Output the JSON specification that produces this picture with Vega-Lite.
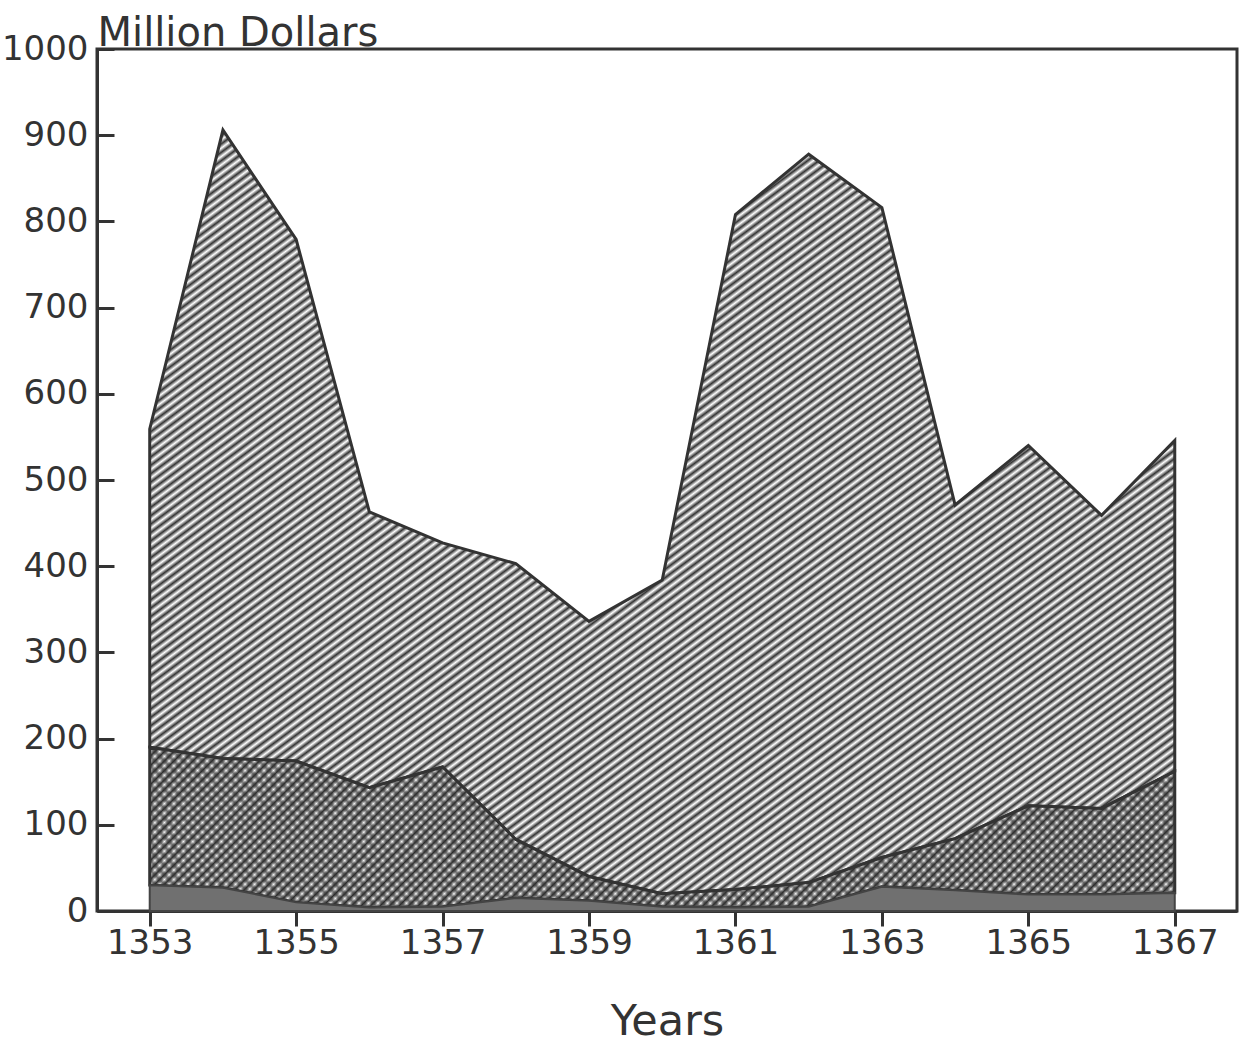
{
  "$schema": "https://vega.github.io/schema/vega-lite/v6.json",
  "autosize": {"type": "none"},
  "padding": {"left": 97, "top": 49, "right": 16, "bottom": 133},
  "width": 1140,
  "height": 862,
  "background": "#ffffff",
  "config": {
    "view": {"stroke": "#333333", "strokeWidth": 3},
    "font": "DejaVu Sans"
  },
  "data": {
    "values": [
      {"year": 1353, "series": "bottom", "value": 30}, {"year": 1353, "series": "middle", "value": 160}, {"year": 1353, "series": "top", "value": 369},
      {"year": 1354, "series": "bottom", "value": 27}, {"year": 1354, "series": "middle", "value": 150}, {"year": 1354, "series": "top", "value": 729},
      {"year": 1355, "series": "bottom", "value": 10}, {"year": 1355, "series": "middle", "value": 164}, {"year": 1355, "series": "top", "value": 605},
      {"year": 1356, "series": "bottom", "value": 4}, {"year": 1356, "series": "middle", "value": 139}, {"year": 1356, "series": "top", "value": 320},
      {"year": 1357, "series": "bottom", "value": 5}, {"year": 1357, "series": "middle", "value": 162}, {"year": 1357, "series": "top", "value": 260},
      {"year": 1358, "series": "bottom", "value": 15}, {"year": 1358, "series": "middle", "value": 68}, {"year": 1358, "series": "top", "value": 320},
      {"year": 1359, "series": "bottom", "value": 12}, {"year": 1359, "series": "middle", "value": 28}, {"year": 1359, "series": "top", "value": 296},
      {"year": 1360, "series": "bottom", "value": 5}, {"year": 1360, "series": "middle", "value": 15}, {"year": 1360, "series": "top", "value": 364},
      {"year": 1361, "series": "bottom", "value": 4}, {"year": 1361, "series": "middle", "value": 21}, {"year": 1361, "series": "top", "value": 783},
      {"year": 1362, "series": "bottom", "value": 5}, {"year": 1362, "series": "middle", "value": 28}, {"year": 1362, "series": "top", "value": 845},
      {"year": 1363, "series": "bottom", "value": 28}, {"year": 1363, "series": "middle", "value": 34}, {"year": 1363, "series": "top", "value": 754},
      {"year": 1364, "series": "bottom", "value": 24}, {"year": 1364, "series": "middle", "value": 60}, {"year": 1364, "series": "top", "value": 387},
      {"year": 1365, "series": "bottom", "value": 19}, {"year": 1365, "series": "middle", "value": 103}, {"year": 1365, "series": "top", "value": 418},
      {"year": 1366, "series": "bottom", "value": 19}, {"year": 1366, "series": "middle", "value": 100}, {"year": 1366, "series": "top", "value": 340},
      {"year": 1367, "series": "bottom", "value": 21}, {"year": 1367, "series": "middle", "value": 141}, {"year": 1367, "series": "top", "value": 384}
    ]
  },
  "transform": [
    {"stack": "value", "groupby": ["year"], "sort": [{"field": "series", "order": "ascending"}], "as": ["y0", "y1"]}
  ],
  "encoding": {
    "x": {
      "field": "year", "type": "quantitative",
      "scale": {"domain": [1352.28, 1367.85], "nice": false, "zero": false},
      "axis": {
        "values": [1353, 1355, 1357, 1359, 1361, 1363, 1365, 1367],
        "format": "d", "grid": false,
        "domainColor": "#333333", "domainWidth": 3,
        "tickColor": "#333333", "tickWidth": 3, "tickSize": 15,
        "labelFontSize": 34, "labelColor": "#333333", "labelPadding": 0,
        "title": "Years", "titleFontSize": 43, "titleFontWeight": "normal", "titleColor": "#333333", "titlePadding": 40
      }
    },
    "y": {
      "field": "y1", "type": "quantitative",
      "scale": {"domain": [0, 1000], "nice": false},
      "axis": {
        "values": [0, 100, 200, 300, 400, 500, 600, 700, 800, 900, 1000],
        "format": "d", "grid": false,
        "domainColor": "#333333", "domainWidth": 3,
        "tickColor": "#333333", "tickWidth": 3, "tickSize": -17,
        "labelFontSize": 34, "labelColor": "#333333", "labelPadding": 26,
        "title": "Million Dollars", "titleAngle": 0, "titleAlign": "left", "titleBaseline": "alphabetic",
        "titleX": 0, "titleY": -4, "titleFontSize": 40, "titleFontWeight": "normal", "titleColor": "#333333"
      }
    },
    "y2": {"field": "y0"}
  },
  "layer": [
    {
      "transform": [{"filter": "datum.series === 'top'"}],
      "mark": {"type": "area", "fillOpacity": 1, "stroke": "#333333", "strokeWidth": 3, "strokeJoin": "miter",
        "fill": {"gradient": "linear", "x1": 0, "y1": 0, "x2": 1.1, "y2": 1.1, "stops": [
{"offset":0,"color":"#333"},{"offset":0.0025,"color":"#fff"},{"offset":0.005,"color":"#333"},{"offset":0.0075,"color":"#fff"},
{"offset":0.01,"color":"#333"},{"offset":0.0125,"color":"#fff"},{"offset":0.015,"color":"#333"},{"offset":0.0175,"color":"#fff"},
{"offset":0.02,"color":"#333"},{"offset":0.0225,"color":"#fff"},{"offset":0.025,"color":"#333"},{"offset":0.0275,"color":"#fff"},
{"offset":0.03,"color":"#333"},{"offset":0.0325,"color":"#fff"},{"offset":0.035,"color":"#333"},{"offset":0.0375,"color":"#fff"},
{"offset":0.04,"color":"#333"},{"offset":0.0425,"color":"#fff"},{"offset":0.045,"color":"#333"},{"offset":0.0475,"color":"#fff"},
{"offset":0.05,"color":"#333"},{"offset":0.0525,"color":"#fff"},{"offset":0.055,"color":"#333"},{"offset":0.0575,"color":"#fff"},
{"offset":0.06,"color":"#333"},{"offset":0.0625,"color":"#fff"},{"offset":0.065,"color":"#333"},{"offset":0.0675,"color":"#fff"},
{"offset":0.07,"color":"#333"},{"offset":0.0725,"color":"#fff"},{"offset":0.075,"color":"#333"},{"offset":0.0775,"color":"#fff"},
{"offset":0.08,"color":"#333"},{"offset":0.0825,"color":"#fff"},{"offset":0.085,"color":"#333"},{"offset":0.0875,"color":"#fff"},
{"offset":0.09,"color":"#333"},{"offset":0.0925,"color":"#fff"},{"offset":0.095,"color":"#333"},{"offset":0.0975,"color":"#fff"},
{"offset":0.1,"color":"#333"},{"offset":0.1025,"color":"#fff"},{"offset":0.105,"color":"#333"},{"offset":0.1075,"color":"#fff"},
{"offset":0.11,"color":"#333"},{"offset":0.1125,"color":"#fff"},{"offset":0.115,"color":"#333"},{"offset":0.1175,"color":"#fff"},
{"offset":0.12,"color":"#333"},{"offset":0.1225,"color":"#fff"},{"offset":0.125,"color":"#333"},{"offset":0.1275,"color":"#fff"},
{"offset":0.13,"color":"#333"},{"offset":0.1325,"color":"#fff"},{"offset":0.135,"color":"#333"},{"offset":0.1375,"color":"#fff"},
{"offset":0.14,"color":"#333"},{"offset":0.1425,"color":"#fff"},{"offset":0.145,"color":"#333"},{"offset":0.1475,"color":"#fff"},
{"offset":0.15,"color":"#333"},{"offset":0.1525,"color":"#fff"},{"offset":0.155,"color":"#333"},{"offset":0.1575,"color":"#fff"},
{"offset":0.16,"color":"#333"},{"offset":0.1625,"color":"#fff"},{"offset":0.165,"color":"#333"},{"offset":0.1675,"color":"#fff"},
{"offset":0.17,"color":"#333"},{"offset":0.1725,"color":"#fff"},{"offset":0.175,"color":"#333"},{"offset":0.1775,"color":"#fff"},
{"offset":0.18,"color":"#333"},{"offset":0.1825,"color":"#fff"},{"offset":0.185,"color":"#333"},{"offset":0.1875,"color":"#fff"},
{"offset":0.19,"color":"#333"},{"offset":0.1925,"color":"#fff"},{"offset":0.195,"color":"#333"},{"offset":0.1975,"color":"#fff"},
{"offset":0.2,"color":"#333"},{"offset":0.2025,"color":"#fff"},{"offset":0.205,"color":"#333"},{"offset":0.2075,"color":"#fff"},
{"offset":0.21,"color":"#333"},{"offset":0.2125,"color":"#fff"},{"offset":0.215,"color":"#333"},{"offset":0.2175,"color":"#fff"},
{"offset":0.22,"color":"#333"},{"offset":0.2225,"color":"#fff"},{"offset":0.225,"color":"#333"},{"offset":0.2275,"color":"#fff"},
{"offset":0.23,"color":"#333"},{"offset":0.2325,"color":"#fff"},{"offset":0.235,"color":"#333"},{"offset":0.2375,"color":"#fff"},
{"offset":0.24,"color":"#333"},{"offset":0.2425,"color":"#fff"},{"offset":0.245,"color":"#333"},{"offset":0.2475,"color":"#fff"},
{"offset":0.25,"color":"#333"},{"offset":0.2525,"color":"#fff"},{"offset":0.255,"color":"#333"},{"offset":0.2575,"color":"#fff"},
{"offset":0.26,"color":"#333"},{"offset":0.2625,"color":"#fff"},{"offset":0.265,"color":"#333"},{"offset":0.2675,"color":"#fff"},
{"offset":0.27,"color":"#333"},{"offset":0.2725,"color":"#fff"},{"offset":0.275,"color":"#333"},{"offset":0.2775,"color":"#fff"},
{"offset":0.28,"color":"#333"},{"offset":0.2825,"color":"#fff"},{"offset":0.285,"color":"#333"},{"offset":0.2875,"color":"#fff"},
{"offset":0.29,"color":"#333"},{"offset":0.2925,"color":"#fff"},{"offset":0.295,"color":"#333"},{"offset":0.2975,"color":"#fff"},
{"offset":0.3,"color":"#333"},{"offset":0.3025,"color":"#fff"},{"offset":0.305,"color":"#333"},{"offset":0.3075,"color":"#fff"},
{"offset":0.31,"color":"#333"},{"offset":0.3125,"color":"#fff"},{"offset":0.315,"color":"#333"},{"offset":0.3175,"color":"#fff"},
{"offset":0.32,"color":"#333"},{"offset":0.3225,"color":"#fff"},{"offset":0.325,"color":"#333"},{"offset":0.3275,"color":"#fff"},
{"offset":0.33,"color":"#333"},{"offset":0.3325,"color":"#fff"},{"offset":0.335,"color":"#333"},{"offset":0.3375,"color":"#fff"},
{"offset":0.34,"color":"#333"},{"offset":0.3425,"color":"#fff"},{"offset":0.345,"color":"#333"},{"offset":0.3475,"color":"#fff"},
{"offset":0.35,"color":"#333"},{"offset":0.3525,"color":"#fff"},{"offset":0.355,"color":"#333"},{"offset":0.3575,"color":"#fff"},
{"offset":0.36,"color":"#333"},{"offset":0.3625,"color":"#fff"},{"offset":0.365,"color":"#333"},{"offset":0.3675,"color":"#fff"},
{"offset":0.37,"color":"#333"},{"offset":0.3725,"color":"#fff"},{"offset":0.375,"color":"#333"},{"offset":0.3775,"color":"#fff"},
{"offset":0.38,"color":"#333"},{"offset":0.3825,"color":"#fff"},{"offset":0.385,"color":"#333"},{"offset":0.3875,"color":"#fff"},
{"offset":0.39,"color":"#333"},{"offset":0.3925,"color":"#fff"},{"offset":0.395,"color":"#333"},{"offset":0.3975,"color":"#fff"},
{"offset":0.4,"color":"#333"},{"offset":0.4025,"color":"#fff"},{"offset":0.405,"color":"#333"},{"offset":0.4075,"color":"#fff"},
{"offset":0.41,"color":"#333"},{"offset":0.4125,"color":"#fff"},{"offset":0.415,"color":"#333"},{"offset":0.4175,"color":"#fff"},
{"offset":0.42,"color":"#333"},{"offset":0.4225,"color":"#fff"},{"offset":0.425,"color":"#333"},{"offset":0.4275,"color":"#fff"},
{"offset":0.43,"color":"#333"},{"offset":0.4325,"color":"#fff"},{"offset":0.435,"color":"#333"},{"offset":0.4375,"color":"#fff"},
{"offset":0.44,"color":"#333"},{"offset":0.4425,"color":"#fff"},{"offset":0.445,"color":"#333"},{"offset":0.4475,"color":"#fff"},
{"offset":0.45,"color":"#333"},{"offset":0.4525,"color":"#fff"},{"offset":0.455,"color":"#333"},{"offset":0.4575,"color":"#fff"},
{"offset":0.46,"color":"#333"},{"offset":0.4625,"color":"#fff"},{"offset":0.465,"color":"#333"},{"offset":0.4675,"color":"#fff"},
{"offset":0.47,"color":"#333"},{"offset":0.4725,"color":"#fff"},{"offset":0.475,"color":"#333"},{"offset":0.4775,"color":"#fff"},
{"offset":0.48,"color":"#333"},{"offset":0.4825,"color":"#fff"},{"offset":0.485,"color":"#333"},{"offset":0.4875,"color":"#fff"},
{"offset":0.49,"color":"#333"},{"offset":0.4925,"color":"#fff"},{"offset":0.495,"color":"#333"},{"offset":0.4975,"color":"#fff"},
{"offset":0.5,"color":"#333"},{"offset":0.5025,"color":"#fff"},{"offset":0.505,"color":"#333"},{"offset":0.5075,"color":"#fff"},
{"offset":0.51,"color":"#333"},{"offset":0.5125,"color":"#fff"},{"offset":0.515,"color":"#333"},{"offset":0.5175,"color":"#fff"},
{"offset":0.52,"color":"#333"},{"offset":0.5225,"color":"#fff"},{"offset":0.525,"color":"#333"},{"offset":0.5275,"color":"#fff"},
{"offset":0.53,"color":"#333"},{"offset":0.5325,"color":"#fff"},{"offset":0.535,"color":"#333"},{"offset":0.5375,"color":"#fff"},
{"offset":0.54,"color":"#333"},{"offset":0.5425,"color":"#fff"},{"offset":0.545,"color":"#333"},{"offset":0.5475,"color":"#fff"},
{"offset":0.55,"color":"#333"},{"offset":0.5525,"color":"#fff"},{"offset":0.555,"color":"#333"},{"offset":0.5575,"color":"#fff"},
{"offset":0.56,"color":"#333"},{"offset":0.5625,"color":"#fff"},{"offset":0.565,"color":"#333"},{"offset":0.5675,"color":"#fff"},
{"offset":0.57,"color":"#333"},{"offset":0.5725,"color":"#fff"},{"offset":0.575,"color":"#333"},{"offset":0.5775,"color":"#fff"},
{"offset":0.58,"color":"#333"},{"offset":0.5825,"color":"#fff"},{"offset":0.585,"color":"#333"},{"offset":0.5875,"color":"#fff"},
{"offset":0.59,"color":"#333"},{"offset":0.5925,"color":"#fff"},{"offset":0.595,"color":"#333"},{"offset":0.5975,"color":"#fff"},
{"offset":0.6,"color":"#333"},{"offset":0.6025,"color":"#fff"},{"offset":0.605,"color":"#333"},{"offset":0.6075,"color":"#fff"},
{"offset":0.61,"color":"#333"},{"offset":0.6125,"color":"#fff"},{"offset":0.615,"color":"#333"},{"offset":0.6175,"color":"#fff"},
{"offset":0.62,"color":"#333"},{"offset":0.6225,"color":"#fff"},{"offset":0.625,"color":"#333"},{"offset":0.6275,"color":"#fff"},
{"offset":0.63,"color":"#333"},{"offset":0.6325,"color":"#fff"},{"offset":0.635,"color":"#333"},{"offset":0.6375,"color":"#fff"},
{"offset":0.64,"color":"#333"},{"offset":0.6425,"color":"#fff"},{"offset":0.645,"color":"#333"},{"offset":0.6475,"color":"#fff"},
{"offset":0.65,"color":"#333"},{"offset":0.6525,"color":"#fff"},{"offset":0.655,"color":"#333"},{"offset":0.6575,"color":"#fff"},
{"offset":0.66,"color":"#333"},{"offset":0.6625,"color":"#fff"},{"offset":0.665,"color":"#333"},{"offset":0.6675,"color":"#fff"},
{"offset":0.67,"color":"#333"},{"offset":0.6725,"color":"#fff"},{"offset":0.675,"color":"#333"},{"offset":0.6775,"color":"#fff"},
{"offset":0.68,"color":"#333"},{"offset":0.6825,"color":"#fff"},{"offset":0.685,"color":"#333"},{"offset":0.6875,"color":"#fff"},
{"offset":0.69,"color":"#333"},{"offset":0.6925,"color":"#fff"},{"offset":0.695,"color":"#333"},{"offset":0.6975,"color":"#fff"},
{"offset":0.7,"color":"#333"},{"offset":0.7025,"color":"#fff"},{"offset":0.705,"color":"#333"},{"offset":0.7075,"color":"#fff"},
{"offset":0.71,"color":"#333"},{"offset":0.7125,"color":"#fff"},{"offset":0.715,"color":"#333"},{"offset":0.7175,"color":"#fff"},
{"offset":0.72,"color":"#333"},{"offset":0.7225,"color":"#fff"},{"offset":0.725,"color":"#333"},{"offset":0.7275,"color":"#fff"},
{"offset":0.73,"color":"#333"},{"offset":0.7325,"color":"#fff"},{"offset":0.735,"color":"#333"},{"offset":0.7375,"color":"#fff"},
{"offset":0.74,"color":"#333"},{"offset":0.7425,"color":"#fff"},{"offset":0.745,"color":"#333"},{"offset":0.7475,"color":"#fff"},
{"offset":0.75,"color":"#333"},{"offset":0.7525,"color":"#fff"},{"offset":0.755,"color":"#333"},{"offset":0.7575,"color":"#fff"},
{"offset":0.76,"color":"#333"},{"offset":0.7625,"color":"#fff"},{"offset":0.765,"color":"#333"},{"offset":0.7675,"color":"#fff"},
{"offset":0.77,"color":"#333"},{"offset":0.7725,"color":"#fff"},{"offset":0.775,"color":"#333"},{"offset":0.7775,"color":"#fff"},
{"offset":0.78,"color":"#333"},{"offset":0.7825,"color":"#fff"},{"offset":0.785,"color":"#333"},{"offset":0.7875,"color":"#fff"},
{"offset":0.79,"color":"#333"},{"offset":0.7925,"color":"#fff"},{"offset":0.795,"color":"#333"},{"offset":0.7975,"color":"#fff"},
{"offset":0.8,"color":"#333"},{"offset":0.8025,"color":"#fff"},{"offset":0.805,"color":"#333"},{"offset":0.8075,"color":"#fff"},
{"offset":0.81,"color":"#333"},{"offset":0.8125,"color":"#fff"},{"offset":0.815,"color":"#333"},{"offset":0.8175,"color":"#fff"},
{"offset":0.82,"color":"#333"},{"offset":0.8225,"color":"#fff"},{"offset":0.825,"color":"#333"},{"offset":0.8275,"color":"#fff"},
{"offset":0.83,"color":"#333"},{"offset":0.8325,"color":"#fff"},{"offset":0.835,"color":"#333"},{"offset":0.8375,"color":"#fff"},
{"offset":0.84,"color":"#333"},{"offset":0.8425,"color":"#fff"},{"offset":0.845,"color":"#333"},{"offset":0.8475,"color":"#fff"},
{"offset":0.85,"color":"#333"},{"offset":0.8525,"color":"#fff"},{"offset":0.855,"color":"#333"},{"offset":0.8575,"color":"#fff"},
{"offset":0.86,"color":"#333"},{"offset":0.8625,"color":"#fff"},{"offset":0.865,"color":"#333"},{"offset":0.8675,"color":"#fff"},
{"offset":0.87,"color":"#333"},{"offset":0.8725,"color":"#fff"},{"offset":0.875,"color":"#333"},{"offset":0.8775,"color":"#fff"},
{"offset":0.88,"color":"#333"},{"offset":0.8825,"color":"#fff"},{"offset":0.885,"color":"#333"},{"offset":0.8875,"color":"#fff"},
{"offset":0.89,"color":"#333"},{"offset":0.8925,"color":"#fff"},{"offset":0.895,"color":"#333"},{"offset":0.8975,"color":"#fff"},
{"offset":0.9,"color":"#333"},{"offset":0.9025,"color":"#fff"},{"offset":0.905,"color":"#333"},{"offset":0.9075,"color":"#fff"},
{"offset":0.91,"color":"#333"},{"offset":0.9125,"color":"#fff"},{"offset":0.915,"color":"#333"},{"offset":0.9175,"color":"#fff"},
{"offset":0.92,"color":"#333"}
        ]}
      }
    },
    {
      "transform": [{"filter": "datum.series === 'middle'"}],
      "mark": {"type": "area", "fillOpacity": 1, "strokeWidth": 0,
        "fill": {"gradient": "linear", "x1": 0, "y1": 0, "x2": 1.13, "y2": 0.177, "stops": [
{"offset":0,"color":"#333"},{"offset":0.004,"color":"#fff"},{"offset":0.008,"color":"#333"},{"offset":0.012,"color":"#fff"},{"offset":0.016,"color":"#333"},{"offset":0.02,"color":"#fff"},{"offset":0.024,"color":"#333"},{"offset":0.028,"color":"#fff"},{"offset":0.032,"color":"#333"},{"offset":0.036,"color":"#fff"},
{"offset":0.04,"color":"#333"},{"offset":0.044,"color":"#fff"},{"offset":0.048,"color":"#333"},{"offset":0.052,"color":"#fff"},{"offset":0.056,"color":"#333"},{"offset":0.06,"color":"#fff"},{"offset":0.064,"color":"#333"},{"offset":0.068,"color":"#fff"},{"offset":0.072,"color":"#333"},{"offset":0.076,"color":"#fff"},
{"offset":0.08,"color":"#333"},{"offset":0.084,"color":"#fff"},{"offset":0.088,"color":"#333"},{"offset":0.092,"color":"#fff"},{"offset":0.096,"color":"#333"},{"offset":0.1,"color":"#fff"},{"offset":0.104,"color":"#333"},{"offset":0.108,"color":"#fff"},{"offset":0.112,"color":"#333"},{"offset":0.116,"color":"#fff"},
{"offset":0.12,"color":"#333"},{"offset":0.124,"color":"#fff"},{"offset":0.128,"color":"#333"},{"offset":0.132,"color":"#fff"},{"offset":0.136,"color":"#333"},{"offset":0.14,"color":"#fff"},{"offset":0.144,"color":"#333"},{"offset":0.148,"color":"#fff"},{"offset":0.152,"color":"#333"},{"offset":0.156,"color":"#fff"},
{"offset":0.16,"color":"#333"},{"offset":0.164,"color":"#fff"},{"offset":0.168,"color":"#333"},{"offset":0.172,"color":"#fff"},{"offset":0.176,"color":"#333"},{"offset":0.18,"color":"#fff"},{"offset":0.184,"color":"#333"},{"offset":0.188,"color":"#fff"},{"offset":0.192,"color":"#333"},{"offset":0.196,"color":"#fff"},
{"offset":0.2,"color":"#333"},{"offset":0.204,"color":"#fff"},{"offset":0.208,"color":"#333"},{"offset":0.212,"color":"#fff"},{"offset":0.216,"color":"#333"},{"offset":0.22,"color":"#fff"},{"offset":0.224,"color":"#333"},{"offset":0.228,"color":"#fff"},{"offset":0.232,"color":"#333"},{"offset":0.236,"color":"#fff"},
{"offset":0.24,"color":"#333"},{"offset":0.244,"color":"#fff"},{"offset":0.248,"color":"#333"},{"offset":0.252,"color":"#fff"},{"offset":0.256,"color":"#333"},{"offset":0.26,"color":"#fff"},{"offset":0.264,"color":"#333"},{"offset":0.268,"color":"#fff"},{"offset":0.272,"color":"#333"},{"offset":0.276,"color":"#fff"},
{"offset":0.28,"color":"#333"},{"offset":0.284,"color":"#fff"},{"offset":0.288,"color":"#333"},{"offset":0.292,"color":"#fff"},{"offset":0.296,"color":"#333"},{"offset":0.3,"color":"#fff"},{"offset":0.304,"color":"#333"},{"offset":0.308,"color":"#fff"},{"offset":0.312,"color":"#333"},{"offset":0.316,"color":"#fff"},
{"offset":0.32,"color":"#333"},{"offset":0.324,"color":"#fff"},{"offset":0.328,"color":"#333"},{"offset":0.332,"color":"#fff"},{"offset":0.336,"color":"#333"},{"offset":0.34,"color":"#fff"},{"offset":0.344,"color":"#333"},{"offset":0.348,"color":"#fff"},{"offset":0.352,"color":"#333"},{"offset":0.356,"color":"#fff"},
{"offset":0.36,"color":"#333"},{"offset":0.364,"color":"#fff"},{"offset":0.368,"color":"#333"},{"offset":0.372,"color":"#fff"},{"offset":0.376,"color":"#333"},{"offset":0.38,"color":"#fff"},{"offset":0.384,"color":"#333"},{"offset":0.388,"color":"#fff"},{"offset":0.392,"color":"#333"},{"offset":0.396,"color":"#fff"},
{"offset":0.4,"color":"#333"},{"offset":0.404,"color":"#fff"},{"offset":0.408,"color":"#333"},{"offset":0.412,"color":"#fff"},{"offset":0.416,"color":"#333"},{"offset":0.42,"color":"#fff"},{"offset":0.424,"color":"#333"},{"offset":0.428,"color":"#fff"},{"offset":0.432,"color":"#333"},{"offset":0.436,"color":"#fff"},
{"offset":0.44,"color":"#333"},{"offset":0.444,"color":"#fff"},{"offset":0.448,"color":"#333"},{"offset":0.452,"color":"#fff"},{"offset":0.456,"color":"#333"},{"offset":0.46,"color":"#fff"},{"offset":0.464,"color":"#333"},{"offset":0.468,"color":"#fff"},{"offset":0.472,"color":"#333"},{"offset":0.476,"color":"#fff"},
{"offset":0.48,"color":"#333"},{"offset":0.484,"color":"#fff"},{"offset":0.488,"color":"#333"},{"offset":0.492,"color":"#fff"},{"offset":0.496,"color":"#333"},{"offset":0.5,"color":"#fff"},{"offset":0.504,"color":"#333"},{"offset":0.508,"color":"#fff"},{"offset":0.512,"color":"#333"},{"offset":0.516,"color":"#fff"},
{"offset":0.52,"color":"#333"},{"offset":0.524,"color":"#fff"},{"offset":0.528,"color":"#333"},{"offset":0.532,"color":"#fff"},{"offset":0.536,"color":"#333"},{"offset":0.54,"color":"#fff"},{"offset":0.544,"color":"#333"},{"offset":0.548,"color":"#fff"},{"offset":0.552,"color":"#333"},{"offset":0.556,"color":"#fff"},
{"offset":0.56,"color":"#333"},{"offset":0.564,"color":"#fff"},{"offset":0.568,"color":"#333"},{"offset":0.572,"color":"#fff"},{"offset":0.576,"color":"#333"},{"offset":0.58,"color":"#fff"},{"offset":0.584,"color":"#333"},{"offset":0.588,"color":"#fff"},{"offset":0.592,"color":"#333"},{"offset":0.596,"color":"#fff"},
{"offset":0.6,"color":"#333"},{"offset":0.604,"color":"#fff"},{"offset":0.608,"color":"#333"},{"offset":0.612,"color":"#fff"},{"offset":0.616,"color":"#333"},{"offset":0.62,"color":"#fff"},{"offset":0.624,"color":"#333"},{"offset":0.628,"color":"#fff"},{"offset":0.632,"color":"#333"},{"offset":0.636,"color":"#fff"},
{"offset":0.64,"color":"#333"},{"offset":0.644,"color":"#fff"},{"offset":0.648,"color":"#333"},{"offset":0.652,"color":"#fff"},{"offset":0.656,"color":"#333"},{"offset":0.66,"color":"#fff"},{"offset":0.664,"color":"#333"},{"offset":0.668,"color":"#fff"},{"offset":0.672,"color":"#333"},{"offset":0.676,"color":"#fff"},
{"offset":0.68,"color":"#333"},{"offset":0.684,"color":"#fff"},{"offset":0.688,"color":"#333"},{"offset":0.692,"color":"#fff"},{"offset":0.696,"color":"#333"},{"offset":0.7,"color":"#fff"},{"offset":0.704,"color":"#333"},{"offset":0.708,"color":"#fff"},{"offset":0.712,"color":"#333"},{"offset":0.716,"color":"#fff"},
{"offset":0.72,"color":"#333"},{"offset":0.724,"color":"#fff"},{"offset":0.728,"color":"#333"},{"offset":0.732,"color":"#fff"},{"offset":0.736,"color":"#333"},{"offset":0.74,"color":"#fff"},{"offset":0.744,"color":"#333"},{"offset":0.748,"color":"#fff"},{"offset":0.752,"color":"#333"},{"offset":0.756,"color":"#fff"},
{"offset":0.76,"color":"#333"},{"offset":0.764,"color":"#fff"},{"offset":0.768,"color":"#333"},{"offset":0.772,"color":"#fff"},{"offset":0.776,"color":"#333"},{"offset":0.78,"color":"#fff"},{"offset":0.784,"color":"#333"},{"offset":0.788,"color":"#fff"},{"offset":0.792,"color":"#333"},{"offset":0.796,"color":"#fff"},
{"offset":0.8,"color":"#333"},{"offset":0.804,"color":"#fff"},{"offset":0.808,"color":"#333"},{"offset":0.812,"color":"#fff"},{"offset":0.816,"color":"#333"},{"offset":0.82,"color":"#fff"},{"offset":0.824,"color":"#333"},{"offset":0.828,"color":"#fff"},{"offset":0.832,"color":"#333"},{"offset":0.836,"color":"#fff"},
{"offset":0.84,"color":"#333"},{"offset":0.844,"color":"#fff"},{"offset":0.848,"color":"#333"},{"offset":0.852,"color":"#fff"},{"offset":0.856,"color":"#333"},{"offset":0.86,"color":"#fff"},{"offset":0.864,"color":"#333"},{"offset":0.868,"color":"#fff"},{"offset":0.872,"color":"#333"},{"offset":0.876,"color":"#fff"},
{"offset":0.88,"color":"#333"},{"offset":0.884,"color":"#fff"},{"offset":0.888,"color":"#333"},{"offset":0.892,"color":"#fff"},{"offset":0.896,"color":"#333"},{"offset":0.9,"color":"#fff"},{"offset":0.904,"color":"#333"},{"offset":0.908,"color":"#fff"},{"offset":0.912,"color":"#333"},{"offset":0.916,"color":"#fff"},
{"offset":0.92,"color":"#333"},{"offset":0.924,"color":"#fff"},{"offset":0.928,"color":"#333"},{"offset":0.932,"color":"#fff"},{"offset":0.936,"color":"#333"},{"offset":0.94,"color":"#fff"},{"offset":0.944,"color":"#333"},{"offset":0.948,"color":"#fff"},{"offset":0.952,"color":"#333"},{"offset":0.956,"color":"#fff"},
{"offset":0.96,"color":"#333"},{"offset":0.964,"color":"#fff"},{"offset":0.968,"color":"#333"},{"offset":0.972,"color":"#fff"},{"offset":0.976,"color":"#333"},{"offset":0.98,"color":"#fff"},{"offset":0.984,"color":"#333"},{"offset":0.988,"color":"#fff"},{"offset":0.992,"color":"#333"},{"offset":0.996,"color":"#fff"},
{"offset":1,"color":"#333"}
        ]}
      }
    },
    {
      "transform": [{"filter": "datum.series === 'middle'"}],
      "mark": {"type": "area", "fillOpacity": 0.65, "stroke": "#333333", "strokeWidth": 3, "strokeOpacity": 1,
        "fill": {"gradient": "linear", "x1": 0, "y1": 1, "x2": 1.13, "y2": 0.823, "stops": [
{"offset":0,"color":"#333"},{"offset":0.004,"color":"transparent"},{"offset":0.008,"color":"#333"},{"offset":0.012,"color":"transparent"},{"offset":0.016,"color":"#333"},{"offset":0.02,"color":"transparent"},{"offset":0.024,"color":"#333"},{"offset":0.028,"color":"transparent"},{"offset":0.032,"color":"#333"},{"offset":0.036,"color":"transparent"},
{"offset":0.04,"color":"#333"},{"offset":0.044,"color":"transparent"},{"offset":0.048,"color":"#333"},{"offset":0.052,"color":"transparent"},{"offset":0.056,"color":"#333"},{"offset":0.06,"color":"transparent"},{"offset":0.064,"color":"#333"},{"offset":0.068,"color":"transparent"},{"offset":0.072,"color":"#333"},{"offset":0.076,"color":"transparent"},
{"offset":0.08,"color":"#333"},{"offset":0.084,"color":"transparent"},{"offset":0.088,"color":"#333"},{"offset":0.092,"color":"transparent"},{"offset":0.096,"color":"#333"},{"offset":0.1,"color":"transparent"},{"offset":0.104,"color":"#333"},{"offset":0.108,"color":"transparent"},{"offset":0.112,"color":"#333"},{"offset":0.116,"color":"transparent"},
{"offset":0.12,"color":"#333"},{"offset":0.124,"color":"transparent"},{"offset":0.128,"color":"#333"},{"offset":0.132,"color":"transparent"},{"offset":0.136,"color":"#333"},{"offset":0.14,"color":"transparent"},{"offset":0.144,"color":"#333"},{"offset":0.148,"color":"transparent"},{"offset":0.152,"color":"#333"},{"offset":0.156,"color":"transparent"},
{"offset":0.16,"color":"#333"},{"offset":0.164,"color":"transparent"},{"offset":0.168,"color":"#333"},{"offset":0.172,"color":"transparent"},{"offset":0.176,"color":"#333"},{"offset":0.18,"color":"transparent"},{"offset":0.184,"color":"#333"},{"offset":0.188,"color":"transparent"},{"offset":0.192,"color":"#333"},{"offset":0.196,"color":"transparent"},
{"offset":0.2,"color":"#333"},{"offset":0.204,"color":"transparent"},{"offset":0.208,"color":"#333"},{"offset":0.212,"color":"transparent"},{"offset":0.216,"color":"#333"},{"offset":0.22,"color":"transparent"},{"offset":0.224,"color":"#333"},{"offset":0.228,"color":"transparent"},{"offset":0.232,"color":"#333"},{"offset":0.236,"color":"transparent"},
{"offset":0.24,"color":"#333"},{"offset":0.244,"color":"transparent"},{"offset":0.248,"color":"#333"},{"offset":0.252,"color":"transparent"},{"offset":0.256,"color":"#333"},{"offset":0.26,"color":"transparent"},{"offset":0.264,"color":"#333"},{"offset":0.268,"color":"transparent"},{"offset":0.272,"color":"#333"},{"offset":0.276,"color":"transparent"},
{"offset":0.28,"color":"#333"},{"offset":0.284,"color":"transparent"},{"offset":0.288,"color":"#333"},{"offset":0.292,"color":"transparent"},{"offset":0.296,"color":"#333"},{"offset":0.3,"color":"transparent"},{"offset":0.304,"color":"#333"},{"offset":0.308,"color":"transparent"},{"offset":0.312,"color":"#333"},{"offset":0.316,"color":"transparent"},
{"offset":0.32,"color":"#333"},{"offset":0.324,"color":"transparent"},{"offset":0.328,"color":"#333"},{"offset":0.332,"color":"transparent"},{"offset":0.336,"color":"#333"},{"offset":0.34,"color":"transparent"},{"offset":0.344,"color":"#333"},{"offset":0.348,"color":"transparent"},{"offset":0.352,"color":"#333"},{"offset":0.356,"color":"transparent"},
{"offset":0.36,"color":"#333"},{"offset":0.364,"color":"transparent"},{"offset":0.368,"color":"#333"},{"offset":0.372,"color":"transparent"},{"offset":0.376,"color":"#333"},{"offset":0.38,"color":"transparent"},{"offset":0.384,"color":"#333"},{"offset":0.388,"color":"transparent"},{"offset":0.392,"color":"#333"},{"offset":0.396,"color":"transparent"},
{"offset":0.4,"color":"#333"},{"offset":0.404,"color":"transparent"},{"offset":0.408,"color":"#333"},{"offset":0.412,"color":"transparent"},{"offset":0.416,"color":"#333"},{"offset":0.42,"color":"transparent"},{"offset":0.424,"color":"#333"},{"offset":0.428,"color":"transparent"},{"offset":0.432,"color":"#333"},{"offset":0.436,"color":"transparent"},
{"offset":0.44,"color":"#333"},{"offset":0.444,"color":"transparent"},{"offset":0.448,"color":"#333"},{"offset":0.452,"color":"transparent"},{"offset":0.456,"color":"#333"},{"offset":0.46,"color":"transparent"},{"offset":0.464,"color":"#333"},{"offset":0.468,"color":"transparent"},{"offset":0.472,"color":"#333"},{"offset":0.476,"color":"transparent"},
{"offset":0.48,"color":"#333"},{"offset":0.484,"color":"transparent"},{"offset":0.488,"color":"#333"},{"offset":0.492,"color":"transparent"},{"offset":0.496,"color":"#333"},{"offset":0.5,"color":"transparent"},{"offset":0.504,"color":"#333"},{"offset":0.508,"color":"transparent"},{"offset":0.512,"color":"#333"},{"offset":0.516,"color":"transparent"},
{"offset":0.52,"color":"#333"},{"offset":0.524,"color":"transparent"},{"offset":0.528,"color":"#333"},{"offset":0.532,"color":"transparent"},{"offset":0.536,"color":"#333"},{"offset":0.54,"color":"transparent"},{"offset":0.544,"color":"#333"},{"offset":0.548,"color":"transparent"},{"offset":0.552,"color":"#333"},{"offset":0.556,"color":"transparent"},
{"offset":0.56,"color":"#333"},{"offset":0.564,"color":"transparent"},{"offset":0.568,"color":"#333"},{"offset":0.572,"color":"transparent"},{"offset":0.576,"color":"#333"},{"offset":0.58,"color":"transparent"},{"offset":0.584,"color":"#333"},{"offset":0.588,"color":"transparent"},{"offset":0.592,"color":"#333"},{"offset":0.596,"color":"transparent"},
{"offset":0.6,"color":"#333"},{"offset":0.604,"color":"transparent"},{"offset":0.608,"color":"#333"},{"offset":0.612,"color":"transparent"},{"offset":0.616,"color":"#333"},{"offset":0.62,"color":"transparent"},{"offset":0.624,"color":"#333"},{"offset":0.628,"color":"transparent"},{"offset":0.632,"color":"#333"},{"offset":0.636,"color":"transparent"},
{"offset":0.64,"color":"#333"},{"offset":0.644,"color":"transparent"},{"offset":0.648,"color":"#333"},{"offset":0.652,"color":"transparent"},{"offset":0.656,"color":"#333"},{"offset":0.66,"color":"transparent"},{"offset":0.664,"color":"#333"},{"offset":0.668,"color":"transparent"},{"offset":0.672,"color":"#333"},{"offset":0.676,"color":"transparent"},
{"offset":0.68,"color":"#333"},{"offset":0.684,"color":"transparent"},{"offset":0.688,"color":"#333"},{"offset":0.692,"color":"transparent"},{"offset":0.696,"color":"#333"},{"offset":0.7,"color":"transparent"},{"offset":0.704,"color":"#333"},{"offset":0.708,"color":"transparent"},{"offset":0.712,"color":"#333"},{"offset":0.716,"color":"transparent"},
{"offset":0.72,"color":"#333"},{"offset":0.724,"color":"transparent"},{"offset":0.728,"color":"#333"},{"offset":0.732,"color":"transparent"},{"offset":0.736,"color":"#333"},{"offset":0.74,"color":"transparent"},{"offset":0.744,"color":"#333"},{"offset":0.748,"color":"transparent"},{"offset":0.752,"color":"#333"},{"offset":0.756,"color":"transparent"},
{"offset":0.76,"color":"#333"},{"offset":0.764,"color":"transparent"},{"offset":0.768,"color":"#333"},{"offset":0.772,"color":"transparent"},{"offset":0.776,"color":"#333"},{"offset":0.78,"color":"transparent"},{"offset":0.784,"color":"#333"},{"offset":0.788,"color":"transparent"},{"offset":0.792,"color":"#333"},{"offset":0.796,"color":"transparent"},
{"offset":0.8,"color":"#333"},{"offset":0.804,"color":"transparent"},{"offset":0.808,"color":"#333"},{"offset":0.812,"color":"transparent"},{"offset":0.816,"color":"#333"},{"offset":0.82,"color":"transparent"},{"offset":0.824,"color":"#333"},{"offset":0.828,"color":"transparent"},{"offset":0.832,"color":"#333"},{"offset":0.836,"color":"transparent"},
{"offset":0.84,"color":"#333"},{"offset":0.844,"color":"transparent"},{"offset":0.848,"color":"#333"},{"offset":0.852,"color":"transparent"},{"offset":0.856,"color":"#333"},{"offset":0.86,"color":"transparent"},{"offset":0.864,"color":"#333"},{"offset":0.868,"color":"transparent"},{"offset":0.872,"color":"#333"},{"offset":0.876,"color":"transparent"},
{"offset":0.88,"color":"#333"},{"offset":0.884,"color":"transparent"},{"offset":0.888,"color":"#333"},{"offset":0.892,"color":"transparent"},{"offset":0.896,"color":"#333"},{"offset":0.9,"color":"transparent"},{"offset":0.904,"color":"#333"},{"offset":0.908,"color":"transparent"},{"offset":0.912,"color":"#333"},{"offset":0.916,"color":"transparent"},
{"offset":0.92,"color":"#333"},{"offset":0.924,"color":"transparent"},{"offset":0.928,"color":"#333"},{"offset":0.932,"color":"transparent"},{"offset":0.936,"color":"#333"},{"offset":0.94,"color":"transparent"},{"offset":0.944,"color":"#333"},{"offset":0.948,"color":"transparent"},{"offset":0.952,"color":"#333"},{"offset":0.956,"color":"transparent"},
{"offset":0.96,"color":"#333"},{"offset":0.964,"color":"transparent"},{"offset":0.968,"color":"#333"},{"offset":0.972,"color":"transparent"},{"offset":0.976,"color":"#333"},{"offset":0.98,"color":"transparent"},{"offset":0.984,"color":"#333"},{"offset":0.988,"color":"transparent"},{"offset":0.992,"color":"#333"},{"offset":0.996,"color":"transparent"},
{"offset":1,"color":"#333"}
        ]}
      }
    },
    {
      "transform": [{"filter": "datum.series === 'bottom'"}],
      "mark": {"type": "area", "fill": "#707070", "fillOpacity": 1, "stroke": "#444444", "strokeWidth": 2}
    }
  ]
}
